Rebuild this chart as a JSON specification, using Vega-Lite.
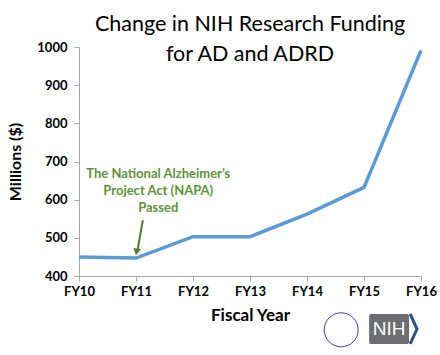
{
  "$schema": "https://vega.github.io/schema/vega-lite/v6.json",
  "width": 342,
  "height": 229,
  "autosize": "none",
  "padding": {"left": 79, "top": 47, "right": 19, "bottom": 79},
  "background": "white",
  "config": {"view": {"stroke": null}, "font": "Lato"},
  "title": {
    "text": ["Change in NIH Research Funding", "for AD and ADRD"],
    "font": "Lato",
    "fontSize": 21.5,
    "fontWeight": "normal",
    "color": "black",
    "lineHeight": 30,
    "anchor": "middle",
    "offset": -24
  },
  "datasets": {
    "funding": [
      {"fy": 10, "amount": 450},
      {"fy": 11, "amount": 447},
      {"fy": 12, "amount": 503},
      {"fy": 13, "amount": 503},
      {"fy": 14, "amount": 562},
      {"fy": 15, "amount": 632},
      {"fy": 16, "amount": 991}
    ],
    "note": [{"fy": 11.39, "amount": 683, "label": "The National Alzheimer’s\nProject Act (NAPA)\nPassed"}],
    "arrow": [
      {"fy": 11.12, "amount": 546},
      {"fy": 11.03, "amount": 470}
    ],
    "head": [{"fy": 11.01, "amount": 463}],
    "logoBox": [{"fy": 15.09, "fy2": 15.79, "amount": 300.5, "amount2": 222}],
    "logoText": [{"fy": 15.44, "amount": 261, "label": "NIH"}],
    "chevron": [
      {"i": 1, "fy": 15.81, "amount": 300.5},
      {"i": 2, "fy": 15.93, "amount": 261},
      {"i": 3, "fy": 15.81, "amount": 222}
    ],
    "seal": [{"fy": 14.6, "amount": 259}]
  },
  "encoding": {
    "x": {
      "field": "fy", "type": "quantitative",
      "scale": {"domain": [10, 16], "nice": false, "zero": false},
      "axis": {
        "values": [10, 11, 12, 13, 14, 15, 16],
        "tickCount": 7,
        "labelExpr": "'FY' + datum.value",
        "labelOverlap": false,
        "labelFlush": false,
        "title": "Fiscal Year",
        "grid": false,
        "domainColor": "#a6a6a6",
        "tickColor": "#a6a6a6",
        "tickSize": 5,
        "labelFont": "Lato",
        "labelFontWeight": "bold",
        "labelFontSize": 13,
        "labelColor": "black",
        "labelPadding": 4,
        "titleFont": "Lato",
        "titleFontWeight": "bold",
        "titleFontSize": 17,
        "titleColor": "black",
        "titlePadding": 9
      }
    },
    "y": {
      "field": "amount", "type": "quantitative",
      "scale": {"domain": [400, 1000], "nice": false, "zero": false},
      "axis": {
        "values": [400, 500, 600, 700, 800, 900, 1000],
        "tickCount": 7,
        "format": "d",
        "labelOverlap": false,
        "labelFlush": false,
        "title": "Millions ($)",
        "grid": false,
        "domainColor": "#a6a6a6",
        "tickColor": "#a6a6a6",
        "tickSize": 5,
        "labelFont": "Lato",
        "labelFontWeight": "bold",
        "labelFontSize": 13,
        "labelColor": "black",
        "labelPadding": 7,
        "titleFont": "Lato",
        "titleFontWeight": "bold",
        "titleFontSize": 16,
        "titleColor": "black",
        "titlePadding": 13
      }
    }
  },
  "layer": [
    {
      "data": {"name": "funding"},
      "mark": {"type": "line", "color": "#5B9BD5", "strokeWidth": 3.5}
    },
    {
      "data": {"name": "note"},
      "mark": {"type": "text", "color": "#5E9339", "fontWeight": "bold", "fontSize": 13, "lineBreak": "\n", "lineHeight": 17, "baseline": "top", "align": "center", "font": "Lato"},
      "encoding": {"text": {"field": "label"}}
    },
    {
      "data": {"name": "arrow"},
      "mark": {"type": "line", "color": "#4F7F2A", "strokeWidth": 2}
    },
    {
      "data": {"name": "head"},
      "mark": {"type": "point", "shape": "triangle-down", "filled": true, "color": "#4F7F2A", "size": 60, "angle": 10, "opacity": 1}
    },
    {
      "data": {"name": "logoBox"},
      "mark": {"type": "rect", "color": "#6D6E71", "cornerRadius": 2},
      "encoding": {
        "x2": {"field": "fy2"},
        "y2": {"field": "amount2"}
      }
    },
    {
      "data": {"name": "logoText"},
      "mark": {"type": "text", "color": "white", "fontSize": 19, "font": "Liberation Sans", "align": "center", "baseline": "middle"},
      "encoding": {"text": {"field": "label"}}
    },
    {
      "data": {"name": "chevron"},
      "mark": {"type": "line", "color": "#20558A", "strokeWidth": 3},
      "encoding": {"order": {"field": "i", "type": "quantitative"}}
    },
    {
      "data": {"name": "seal"},
      "mark": {"type": "point", "shape": "circle", "filled": false, "color": "#3B3BD8", "strokeWidth": 1, "size": 1156, "opacity": 1}
    }
  ]
}
